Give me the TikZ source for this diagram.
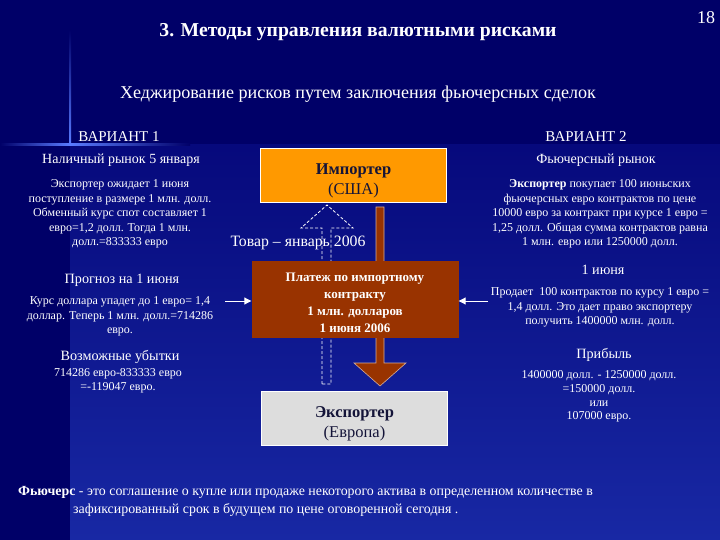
\documentclass[tikz,border=0pt]{standalone}
\usepackage{fontspec}
\setmainfont{Liberation Serif}
\usetikzlibrary{arrows.meta,positioning}
\definecolor{navy}{HTML}{000068}
\definecolor{deepblue}{HTML}{06097C}
\definecolor{lowblue}{HTML}{1828A4}
\definecolor{glow}{HTML}{5A7CFF}
\definecolor{orange}{HTML}{FF9900}
\definecolor{brown}{HTML}{993300}
\definecolor{lightgray}{HTML}{DDDDDD}
\definecolor{ink}{HTML}{141438}
\newcommand{\fs}[2]{\fontsize{#1}{#2}\selectfont}

\begin{document}
\begin{tikzpicture}[x=1pt, y=-1pt,
  txt/.style={text=white, align=center, inner sep=0pt, font=\fs{12}{14.5}},
  head/.style={text=white, align=center, inner sep=0pt, font=\fs{14.2}{15}},
  party/.style={draw=white, line width=0.8pt, align=center, text=ink,
                minimum width=186pt, minimum height=54pt, font=\fs{16.5}{20}},
  payment/.style={fill=brown, align=center, text=white, inner sep=0pt,
                  minimum width=207pt, minimum height=77pt,
                  font=\bfseries\fs{13}{17}},
  arrow/.style={-{Triangle[length=7pt,width=7pt]}, white, line width=1pt}
]
  \useasboundingbox (0,0) rectangle (720,540);
  % background
  \fill[navy] (0,0) rectangle (720,540);
  \shade[top color=deepblue, bottom color=lowblue] (70,145) rectangle (720,540);
  \shade[top color=navy, bottom color=glow] (69,30) rectangle (71,145);
  \shade[left color=navy, right color=glow] (0,144) rectangle (70,146);
  \shade[left color=glow, right color=navy] (70,144) rectangle (190,146);

  % titles
  \node[text=white, font=\bfseries\fs{19.7}{22}] (title) at (358,32)
    {3. Методы управления валютными рисками};
  \node[text=white, font=\fs{18}{20}] (page) at (706,18) {18};
  \node[text=white, font=\fs{18.1}{20}] (subtitle) at (358,94)
    {Хеджирование рисков путем заключения фьючерсных сделок};

  % variant 1
  \node[head, font=\fs{15}{16}] (var1) at (119,137) {ВАРИАНТ 1};
  \node[head, font=\fs{14}{15}] (cash) at (121,160) {Наличный рынок 5 января};
  \node[txt] (expect) at (120,214) {Экспортер ожидает 1 июня\\
    поступление в размере 1 млн. долл.\\ Обменный курс спот составляет 1\\
    евро=1,2 долл. Тогда 1 млн.\\ долл.=833333 евро};
  \node[head] (fcast) at (122,280) {Прогноз на 1 июня};
  \node[txt] (rate) at (120,316.5) {Курс доллара упадет до 1 евро= 1,4\\
    доллар. Теперь 1 млн. долл.=714286\\ евро.};
  \node[head] (loss) at (120,357) {Возможные убытки};
  \node[txt, font=\fs{12}{14}] (lossval) at (118,381) {714286 евро-833333 евро\\
    =-119047 евро.};

  % variant 2
  \node[head, font=\fs{15}{16}] (var2) at (586,137) {ВАРИАНТ 2};
  \node[head, font=\fs{14}{15}] (fut) at (596,160) {Фьючерсный рынок};
  \node[txt] (buy) at (600,214) {\textbf{Экспортер} покупает 100 июньских\\
    фьючерсных евро контрактов по цене\\ 10000 евро за контракт при курсе 1 евро =\\
    1,25 долл. Общая сумма контрактов равна\\ 1 млн. евро или 1250000 долл.};
  \node[head] (june) at (603,270) {1 июня};
  \node[txt] (sell) at (600,307.5) {Продает\ \ 100 контрактов по курсу 1 евро =\\
    1,4 долл. Это дает право экспортеру\\ получить 1400000 млн. долл.};
  \node[head] (gain) at (604,355) {Прибыль};
  \node[txt, font=\fs{12}{13.7}] (gainval) at (599,396.5) {1400000 долл. - 1250000 долл.\\
    =150000 долл.\\ или\\ 107000 евро.};

  % parties
  \node[party, fill=orange] (importer) at (353.5,175)
    {\rule{0pt}{22pt}\textbf{Импортер}\\ (США)};
  \node[party, fill=lightgray] (exporter) at (354.5,418)
    {\rule{0pt}{22pt}\textbf{Экспортер}\\ (Европа)};

  % goods and money flows
  \draw[white, dashed, line width=0.8pt, dash pattern=on 3pt off 2pt]
    (322,384) -- (322,228) -- (301,228) -- (327,205) -- (353,228)
    -- (331,228) -- (331,384) -- cycle;
  \fill[brown, draw=white!60!brown, line width=0.6pt]
    (376,207) -- (384,207) -- (384,363) -- (406,363) -- (380,386)
    -- (354,363) -- (376,363) -- cycle;
  \node[payment] (pay) at (355,299.5)
    {\rule{0pt}{15pt}Платеж по импортному\\ контракту\\ 1 млн. долларов\\ 1 июня 2006};
  \node[text=white, inner sep=0pt, font=\fs{15.8}{17}] (goods) at (298,243)
    {Товар – январь 2006};

  \coordinate (lin) at (225,301);
  \coordinate (rin) at (488,301);
  \draw[arrow] (lin) -- (pay.west |- lin);
  \draw[arrow] (rin) -- (pay.east |- rin);

  % definition
  \node[text=white, anchor=north west, align=left, inner sep=0pt,
        font=\fs{13.9}{18.5}] (defn) at (18,486)
    {\textbf{Фьючерс} - это соглашение о купле или продаже некоторого актива в определенном количестве в\\
     \hspace*{55pt}зафиксированный срок в будущем по цене оговоренной сегодня .};
\end{tikzpicture}
\end{document}
